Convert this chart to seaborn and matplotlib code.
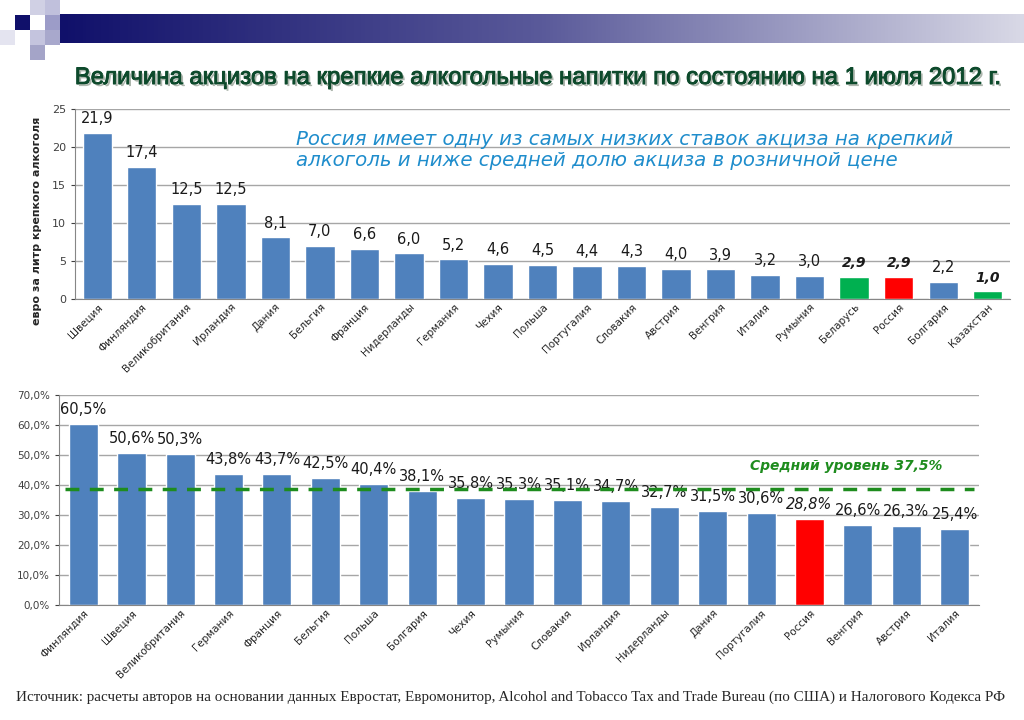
import seaborn as sns
import pandas as pd
import matplotlib.pyplot as plt
import matplotlib.patheffects as pe
from matplotlib.patches import Rectangle
import numpy as np

# data - excise per litre of strong alcohol, EUR
countries_top = ['Швеция', 'Финляндия', 'Великобритания', 'Ирландия', 'Дания', 'Бельгия',
                 'Франция', 'Нидерланды', 'Германия', 'Чехия', 'Польша', 'Португалия',
                 'Словакия', 'Австрия', 'Венгрия', 'Италия', 'Румыния', 'Беларусь',
                 'Россия', 'Болгария', 'Казахстан']
excise_eur = [21.9, 17.4, 12.5, 12.5, 8.1, 7.0, 6.6, 6.0, 5.2, 4.6, 4.5, 4.4,
              4.3, 4.0, 3.9, 3.2, 3.0, 2.9, 2.9, 2.2, 1.0]

# data - excise share in retail price, %
countries_bottom = ['Финляндия', 'Швеция', 'Великобритания', 'Германия', 'Франция', 'Бельгия',
                    'Польша', 'Болгария', 'Чехия', 'Румыния', 'Словакия', 'Ирландия',
                    'Нидерланды', 'Дания', 'Португалия', 'Россия', 'Венгрия', 'Австрия', 'Италия']
excise_share = [60.5, 50.6, 50.3, 43.8, 43.7, 42.5, 40.4, 38.1, 35.8, 35.3, 35.1, 34.7,
                32.7, 31.5, 30.6, 28.8, 26.6, 26.3, 25.4]
avg_line = 38.7

BLUE = '#4f81bd'
GREEN = '#00b050'
RED = '#ff0000'
top_colors = {c: BLUE for c in countries_top}
top_colors['Беларусь'] = GREEN
top_colors['Казахстан'] = GREEN
top_colors['Россия'] = RED
bot_colors = {c: BLUE for c in countries_bottom}
bot_colors['Россия'] = RED

sns.set_style('white')
plt.rcParams['font.family'] = ['DejaVu Sans']

fig = plt.figure(figsize=(10.24, 7.2), dpi=100)
W, H = 1024, 720

def px_axes(x0, y0, x1, y1):
    return fig.add_axes([x0 / W, 1 - y1 / H, (x1 - x0) / W, (y1 - y0) / H])

# header decoration
deco = fig.add_axes([0, 0, 1, 1], zorder=-1)
deco.axis('off')
grad = np.linspace(0, 1, 256)[None, :]
deco.imshow(grad, extent=[60, W, 43, 14], aspect='auto',
            cmap=plt.cm.colors.LinearSegmentedColormap.from_list('g', ['#10106a', '#5a5a9a', '#d8d8e6']))
for (x, y, s, c) in [(15, 15, 15, '#10106a'), (30, 0, 15, '#d0d0e4'), (45, 0, 15, '#c0c0dc'),
                     (45, 15, 15, '#9c9cc8'), (30, 30, 15, '#c4c4de'), (45, 30, 15, '#a8a8cc'),
                     (30, 45, 15, '#a4a4c8'), (0, 30, 15, '#e4e4f0')]:
    deco.add_patch(Rectangle((x, y), s, s, color=c, lw=0))
deco.set_xlim(0, W)
deco.set_ylim(H, 0)

fig.text(537 / W, 1 - 78 / H, 'Величина акцизов на крепкие алкогольные напитки по состоянию на 1 июля 2012 г.',
         ha='center', va='center', fontsize=17.2, color='#0d4a2c',
         family=['Liberation Sans', 'DejaVu Sans'],
         path_effects=[pe.withStroke(linewidth=0.8, foreground='#0d4a2c'),
                       pe.withSimplePatchShadow(offset=(1.5, -1.5), shadow_rgbFace='#9aa59a', alpha=0.8), pe.Normal()])

# top chart
df_top = pd.DataFrame({'country': countries_top, 'value': excise_eur})
ax1 = px_axes(75, 109, 1010, 299)
sns.barplot(data=df_top, x='country', y='value', hue='country', palette=top_colors,
            legend=False, width=0.66, saturation=1, ax=ax1)
ax1.set_ylim(0, 25)
ax1.set_yticks(range(0, 26, 5))
ax1.yaxis.grid(True, color='#a6a6a6', lw=1)
ax1.set_axisbelow(True)
ax1.set_xlabel('')
ax1.set_ylabel('евро за литр крепкого алкоголя', fontsize=8, fontweight='bold')
ax1.yaxis.set_label_coords(-0.035, 0.41)
ax1.tick_params(axis='y', labelsize=8, colors='#404040', length=3, left=True)
ax1.tick_params(axis='x', labelsize=7.5, length=0, pad=2)
plt.setp(ax1.get_xticklabels(), rotation=45, ha='right', rotation_mode='anchor')
for s in ['top', 'right']:
    ax1.spines[s].set_visible(False)
for s in ['left', 'bottom']:
    ax1.spines[s].set_color('#868686')
for i, (c, v) in enumerate(zip(countries_top, excise_eur)):
    special = c in ('Беларусь', 'Россия', 'Казахстан')
    ax1.text(i, v + 0.9, f'{v:.1f}'.replace('.', ','), ha='center', va='bottom',
             fontsize=10.5 if not special else 10, color='#1a1a1a',
             fontweight='bold' if special else 'normal', style='italic' if special else 'normal')

ax1.text(0.236, 0.785, 'Россия имеет одну из самых низких ставок акциза на крепкий\nалкоголь и ниже средней долю акциза в розничной цене',
         transform=ax1.transAxes, ha='left', va='center', fontsize=14.2, style='italic',
         color='#1f8dcc', linespacing=1.15)

# bottom chart
df_bot = pd.DataFrame({'country': countries_bottom, 'value': excise_share})
ax2 = px_axes(59, 395, 979, 605)
sns.barplot(data=df_bot, x='country', y='value', hue='country', palette=bot_colors,
            legend=False, width=0.6, saturation=1, ax=ax2)
ax2.set_ylim(0, 70)
ax2.set_yticks(range(0, 71, 10))
ax2.set_yticklabels([f'{t},0%' for t in range(0, 71, 10)])
ax2.yaxis.grid(True, color='#a6a6a6', lw=1)
ax2.set_axisbelow(True)
ax2.set_xlabel('')
ax2.set_ylabel('')
ax2.tick_params(axis='y', labelsize=7.5, colors='#404040', length=3, left=True)
ax2.tick_params(axis='x', labelsize=7.5, length=0, pad=2)
plt.setp(ax2.get_xticklabels(), rotation=45, ha='right', rotation_mode='anchor')
for s in ['top', 'right']:
    ax2.spines[s].set_visible(False)
for s in ['left', 'bottom']:
    ax2.spines[s].set_color('#868686')
for i, (c, v) in enumerate(zip(countries_bottom, excise_share)):
    ax2.text(i, v + 2.3, f'{v:.1f}%'.replace('.', ','), ha='center', va='bottom',
             fontsize=10.5, color='#1a1a1a', style='italic' if c == 'Россия' else 'normal')
ax2.axhline(avg_line, xmin=0.007, xmax=0.995, color='#1e8c1e', lw=2.5, ls=(0, (4, 3)), zorder=3)
ax2.text(0.96, 0.66, 'Средний уровень 37,5%', transform=ax2.transAxes, ha='right', va='center',
         fontsize=10, fontweight='bold', style='italic', color='#1e8c1e')

fig.text(511 / W, 1 - 697 / H,
         'Источник: расчеты авторов на основании данных Евростат, Евромонитор, Alcohol and Tobacco Tax and Trade Bureau (по США) и Налогового Кодекса РФ',
         ha='center', va='center', fontsize=10.9, family=['Liberation Serif', 'DejaVu Serif'])

fig.savefig('out.png', dpi=100)
